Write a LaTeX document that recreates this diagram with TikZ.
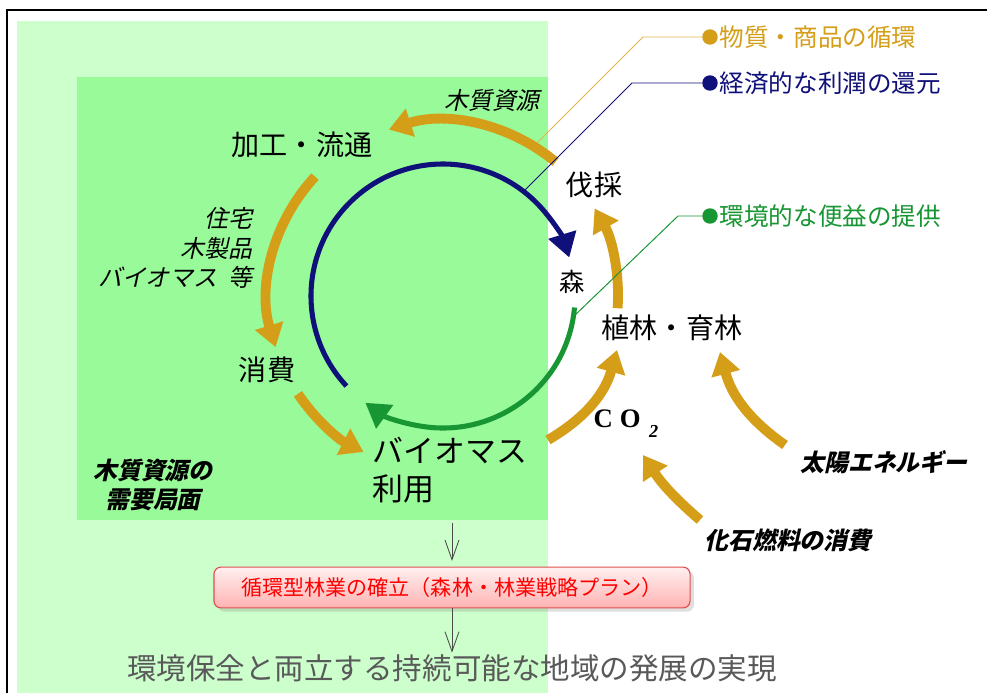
\documentclass[tikz,border=0pt]{standalone}
\usepackage{fontspec}
\setmainfont{Noto Sans CJK JP}
\newfontfamily\slanted[FakeSlant=0.22]{Noto Sans CJK JP}
\newfontfamily\serifco{Liberation Serif}
\usepackage{tikz}
\usetikzlibrary{arrows.meta, calc, positioning, shadows}

\definecolor{woodorange}{RGB}{212,158,24}
\definecolor{profitnavy}{RGB}{16,16,122}
\definecolor{envgreen}{RGB}{24,150,52}
\definecolor{panellight}{RGB}{204,255,204}
\definecolor{paneldark}{RGB}{153,250,153}
\definecolor{planred}{RGB}{224,80,80}

\begin{document}
\begin{tikzpicture}[x=0.025cm, y=0.025cm, >=Stealth,
	cycle/.style={line width=7pt, draw=woodorange, -{Triangle[width=20pt,length=16pt]}},
	ring/.style={line width=3.6pt, -{Triangle[width=20pt,length=17pt]}},
	stage/.style={font=\fontsize{20}{24}\selectfont, inner sep=1pt},
	note/.style={font=\slanted\fontsize{17}{21}\selectfont, inner sep=1pt},
	source/.style={font=\slanted\bfseries\fontsize{17}{21}\selectfont, inner sep=1pt},
	legend/.style={font=\fontsize{17.5}{21}\selectfont, inner sep=0pt},
	dot/.style={circle, inner sep=0pt, minimum size=11pt},
	leader/.style={line width=0.7pt},
	down/.style={draw=black!70, line width=0.6pt, -{Straight Barb[length=14pt,width=10pt]}},
	plan/.style={draw=planred, line width=0.8pt, rounded corners=5pt, top color=red!6, bottom color=red!30,
		drop shadow={opacity=0.25}, minimum width=11.9cm, minimum height=1.02cm, text=red,
		font=\fontsize{15}{18}\selectfont}]
	
	\clip (0,0) rectangle (987,-692);
	\useasboundingbox (0,0) rectangle (987,-692);
	
	% --- 1. THE PANELS ---
	\fill[white] (0,0) rectangle (987,-692);
	\draw[line width=1.6pt] (7,-10) rectangle (1000,-710);
	\fill[panellight] (17,-21) rectangle (548,-700);
	\fill[paneldark] (77,-77) rectangle (548,-520);
	
	% --- 2. THE RINGS (profit back to the forest, benefits of the forest) ---
	\coordinate (hub) at (443,-296);
	\draw[ring, profitnavy] ($(hub)+(223:132)$) arc[start angle=223, end angle=17, radius=132];
	\draw[ring, envgreen] ($(hub)+(-5:132)$) arc[start angle=-5, end angle=-126, radius=132];
	
	% --- 3. THE STAGES ---
	\node[stage] (kakou) at (302,-145) {加工・流通};
	\node[stage] (bassai) at (594,-185) {伐採};
	\node[stage, font=\fontsize{18}{20}\selectfont] (mori) at (572,-282) {森};
	\node[stage] (shokurin) at (672,-328) {植林・育林};
	\node[stage] (shouhi) at (267,-370) {消費};
	\node[stage, font=\fontsize{22}{27}\selectfont, align=left, anchor=west] (biomass) at (371,-470) {バイオマス\\利用};
	
	% --- 4. THE WOOD CYCLE ---
	\draw[cycle] ($(hub)+(50:175)$) arc[start angle=50, end angle=108, radius=175];
	\draw[cycle] ($(hub)+(137:175)$) arc[start angle=137, end angle=197, radius=175];
	\draw[cycle] ($(hub)+(214:175)$) arc[start angle=214, end angle=243, radius=175];
	\draw[cycle] ($(hub)+(-4:175)$) arc[start angle=-4, end angle=30, radius=175];
	
	\coordinate (bio-out) at (548,-440);
	\coordinate (shoku-in) at (617,-350);
	\draw[cycle] (bio-out) to[bend right=22] (shoku-in);
	
	% labels along the cycle
	\node[note] (wood) at (492,-100) {木質資源};
	\node[note, align=right, anchor=east] (uses) at (254,-248) {住宅\\木製品\\バイオマス\hspace{0.45em}等};
	\node[source, align=center] (demand) at (153,-485) {木質資源の\\需要局面};
	
	% --- 5. CO2 AND ENERGY INPUTS ---
	\node[inner sep=1pt] (co2) at (626,-424) {\serifco\bfseries\fontsize{19}{20}\selectfont C\hspace{5pt}O\hspace{6pt}\raisebox{-7pt}{\itshape\fontsize{13}{14}\selectfont 2}};
	\node[source] (solar) at (884,-462) {太陽エネルギー};
	\node[source] (fossil) at (788,-540) {化石燃料の消費};
	
	\coordinate (solar-out) at (785,-445);
	\coordinate (solar-in) at (720,-352);
	\draw[cycle] (solar-out) to[bend left=20] (solar-in);
	\coordinate (fossil-out) at (700,-520);
	\coordinate (fossil-in) at (643,-455);
	\draw[cycle] (fossil-out) to[bend left=8] (fossil-in);
	
	% --- 6. LEGEND ---
	\node[dot, fill=woodorange] (gdot) at (710,-37) {};
	\node[legend, text=woodorange, right=1pt of gdot] (lgoods) {物質・商品の循環};
	\coordinate (goods-end) at (537,-143);
	\draw[leader, woodorange!75] (gdot) -- (643,-37) -- (goods-end);
	
	\node[dot, fill=profitnavy] (pdot) at (710,-83) {};
	\node[legend, text=profitnavy, right=1pt of pdot] (lprofit) {経済的な利潤の還元};
	\coordinate (profit-end) at (525,-190);
	\draw[leader, profitnavy] (pdot) -- (632,-83) -- (profit-end);
	
	\node[dot, fill=envgreen] (edot) at (710,-216) {};
	\node[legend, text=envgreen, right=1pt of edot] (lenv) {環境的な便益の提供};
	\coordinate (env-end) at (573,-317);
	\draw[leader, envgreen] (edot) -- (678,-216) -- (env-end);
	
	% --- 7. THE OUTCOME ---
	\node[plan] (plan) at (452,-587.5) {循環型林業の確立（森林・林業戦略プラン）};
	\node[text=black!65, font=\fontsize{21}{24}\selectfont, inner sep=1pt] (goal) at (452,-668) {環境保全と両立する持続可能な地域の発展の実現};
	
	\coordinate (demand-edge) at (452,-523);
	\draw[down, shorten >=4pt] (demand-edge) -- (plan.north);
	\draw[down] (plan.south) -- (goal.north);
	
\end{tikzpicture}
\end{document}
